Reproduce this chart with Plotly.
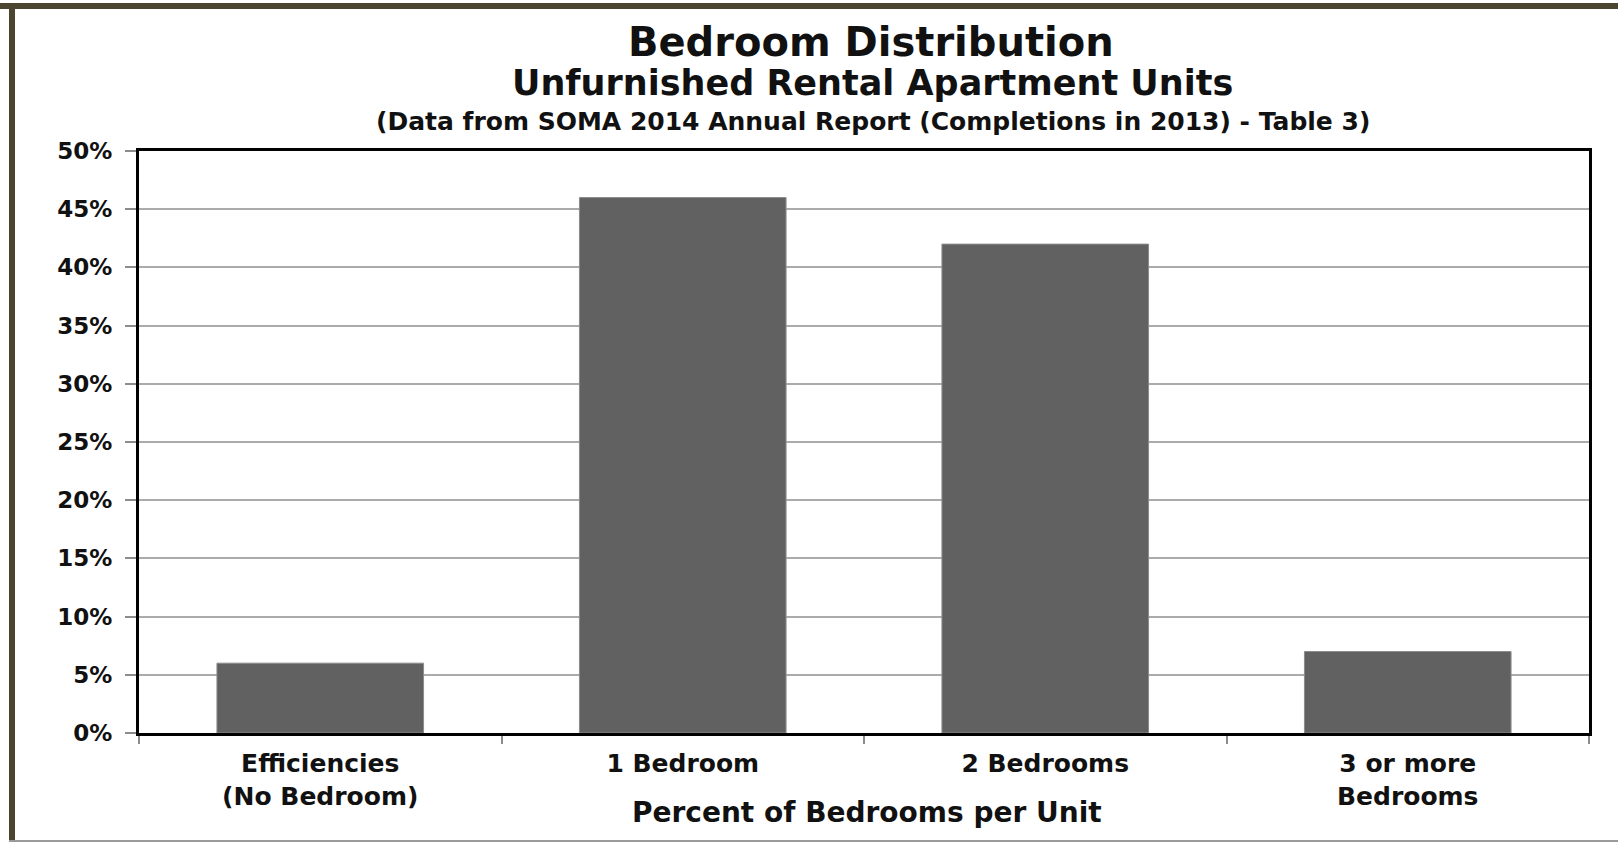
import plotly.graph_objects as go

categories = ["Efficiencies<br>(No Bedroom)", "1 Bedroom", "2 Bedrooms", "3 or more<br>Bedrooms"]
percent_units = [6, 46, 42, 7]
y_ticks = [0, 5, 10, 15, 20, 25, 30, 35, 40, 45, 50]
y_tick_labels = [f"{v}%" for v in y_ticks]

title_1 = "Bedroom Distribution"
title_2 = "Unfurnished Rental Apartment Units"
title_3 = "(Data from SOMA 2014 Annual Report (Completions in 2013) - Table 3)"
x_title = "Percent of Bedrooms per Unit"

W, H = 1618, 842
L, R, T, B = 139, 1589, 151, 733
FONT = "DejaVu Sans"
TXT = "#111111"


def px_x(px):
    return (px - L) / (R - L)


def px_y(py):
    return (B - py) / (B - T)


fig = go.Figure(
    go.Bar(
        x=categories,
        y=percent_units,
        width=0.57,
        marker=dict(color="#616161", line=dict(color="#8c8c8c", width=1)),
        hoverinfo="x+y",
    )
)

fig.update_layout(
    width=W,
    height=H,
    margin=dict(l=L, r=W - R, t=T, b=H - B),
    paper_bgcolor="white",
    plot_bgcolor="white",
    showlegend=False,
    font=dict(family=FONT, color=TXT),
    bargap=0.43,
)

fig.update_yaxes(
    range=[0, 50],
    tickvals=y_ticks,
    ticktext=y_tick_labels,
    tickfont=dict(family=FONT, size=23, color=TXT, weight="bold"),
    showgrid=True,
    gridcolor="rgba(0,0,0,0.33)",
    gridwidth=2,
    layer="above traces",
    showline=True,
    linecolor="black",
    linewidth=3,
    mirror=True,
    ticks="outside",
    ticklen=11,
    tickwidth=2,
    tickcolor="#8c8c8c",
    ticklabelstandoff=8,
    zeroline=False,
    fixedrange=True,
)

fig.update_xaxes(
    tickfont=dict(family=FONT, size=25, color=TXT, weight="bold"),
    showline=True,
    linecolor="black",
    linewidth=3,
    mirror=True,
    ticks="outside",
    tickson="boundaries",
    ticklen=8,
    tickwidth=2,
    tickcolor="#8c8c8c",
    ticklabelstandoff=6,
    showgrid=False,
    fixedrange=True,
)

annotations = [
    dict(text=f"<b>{title_1}</b>", x=px_x(871), y=px_y(42), size=40),
    dict(text=f"<b>{title_2}</b>", x=px_x(872), y=px_y(83), size=35),
    dict(text=f"<b>{title_3}</b>", x=px_x(873), y=px_y(122), size=25),
    dict(text=f"<b>{x_title}</b>", x=px_x(867), y=px_y(812), size=28),
]
for a in annotations:
    fig.add_annotation(
        text=a["text"], x=a["x"], y=a["y"], xref="paper", yref="paper",
        xanchor="center", yanchor="middle", showarrow=False,
        font=dict(family=FONT, size=a["size"], color=TXT),
    )

# outer frame pieces (top and left dark bar, bottom thin line)
frame = "#4b4530"
fig.add_shape(type="rect", xref="paper", yref="paper",
              x0=px_x(0), x1=px_x(W), y0=px_y(9), y1=px_y(3),
              fillcolor=frame, line=dict(width=0), layer="above")
fig.add_shape(type="rect", xref="paper", yref="paper",
              x0=px_x(9), x1=px_x(15), y0=px_y(842), y1=px_y(3),
              fillcolor=frame, line=dict(width=0), layer="above")
fig.add_shape(type="rect", xref="paper", yref="paper",
              x0=px_x(9), x1=px_x(W), y0=px_y(842), y1=px_y(840),
              fillcolor="#9a9a9a", line=dict(width=0), layer="above")

fig.write_html("out.html", config={"displayModeBar": False},
               post_script="document.body.style.margin='0';")
